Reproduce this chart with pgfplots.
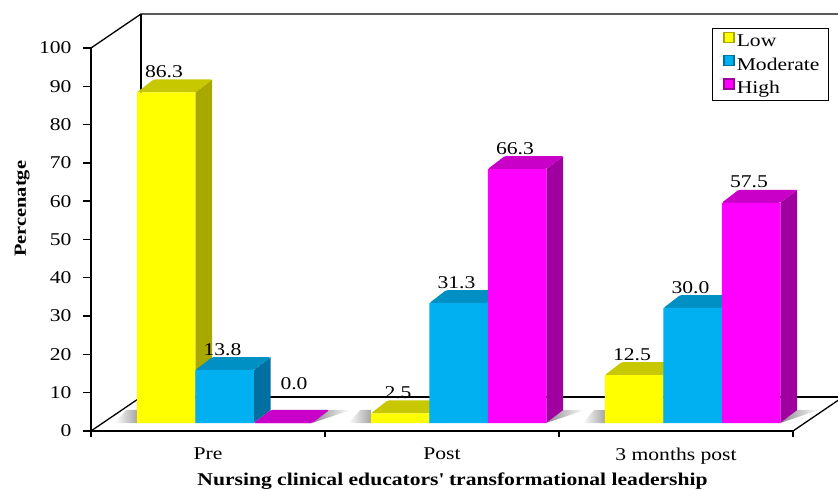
\documentclass[border=0pt]{standalone}
\usepackage{fontspec}
\setmainfont[FakeStretch=1.2]{Liberation Serif}
\usepackage{pgfplots}
\pgfplotsset{compat=1.18}

\definecolor{ylf}{HTML}{FFFF00}
\definecolor{yls}{HTML}{A8A800}
\definecolor{ylt}{HTML}{C8C800}
\definecolor{blf}{HTML}{00B0F0}
\definecolor{bls}{HTML}{0070A0}
\definecolor{blt}{HTML}{0090C4}
\definecolor{mgf}{HTML}{FF00FF}
\definecolor{mgs}{HTML}{A000A0}
\definecolor{mgt}{HTML}{C800C8}

\newcommand{\txt}{\fontsize{18}{21}\selectfont}

% side and top face of one bar: left x, value, side colour, top colour
\newcommand{\barfaces}[4]{%
  \pgfmathsetmacro\xa{#1+0.25}%
  \pgfmathsetmacro\xb{#1+0.3226}%
  \pgfmathsetmacro\xc{#1+0.0726}%
  \pgfmathsetmacro\yb{#2+3.4}%
  \addplot[forget plot,draw=none,fill=#3,xshift=16.5pt,yshift=8pt] coordinates {(\xa,0) (\xb,3.4) (\xb,\yb) (\xa,#2)} -- cycle;
  \addplot[forget plot,draw=none,fill=#4,rounded corners=1.5pt,xshift=16.5pt,yshift=8pt] coordinates {(#1,#2) (\xc,\yb) (\xb,\yb) (\xa,#2)} -- cycle;
}
% soft shadow on the floor round one group of bars
\newcommand{\floorshadow}[1]{%
  \pgfmathsetmacro\xa{#1-0.47}%
  \pgfmathsetmacro\xb{#1-0.375}%
  \pgfmathsetmacro\xf{#1-0.42}%
  \pgfmathsetmacro\xc{#1+0.375}%
  \pgfmathsetmacro\xe{#1+0.4476}%
  \pgfmathsetmacro\xd{#1+0.54}%
  \addplot[forget plot,draw=none,left color=white,right color=gray!70,xshift=16.5pt,yshift=8pt] coordinates {(\xa,0) (\xb,0) (\xb,3.4) (\xf,3.4)} -- cycle;
  \addplot[forget plot,draw=none,left color=gray!90,right color=white,xshift=16.5pt,yshift=8pt] coordinates {(\xc,0) (\xe,3.4) (\xd,3.4)} -- cycle;
}

\pgfplotsset{
  legswatch/.style={legend image code/.code={\path (-6pt,0pt) -- (9pt,0pt);\path[draw=#1,line width=1.4pt,##1] (-1pt,-9pt) rectangle (9pt,1pt);}},
  labelnum/.style={nodes near coords,point meta=y,
    nodes near coords style={font=\txt,xshift=#1,yshift=11pt,/pgf/number format/fixed,/pgf/number format/fixed zerofill,/pgf/number format/precision=1}},
}

\begin{document}
\begin{tikzpicture}[x=1pt,y=1pt]
\path[use as bounding box] (0,0) rectangle (838,490);
\begin{axis}[
    at={(91pt,59pt)}, anchor=south west,
    scale only axis, width=702pt, height=383pt,
    clip=false,
    xmin=0, xmax=3, ymin=0, ymax=100,
    axis x line*=bottom, axis y line*=left,
    axis line style={black,line width=1.8pt,-},
    tick style={black,line width=1.4pt},
    tick align=outside,
    ytick={0,10,...,100},
    xtick={0.5,1.5,2.5},
    xticklabels={Pre,Post,3 months post},
    minor xtick={0,1,2,3},
    major x tick style={draw=none},
    major tick length=8pt, minor tick length=6pt,
    tick label style={font=\txt},
    /pgf/number format/assume math mode=true,
    y tick label style={xshift=-8pt},
    x tick label style={yshift=-5pt},
    xlabel={\textbf{Nursing clinical educators\textquotesingle\ transformational leadership}},
    ylabel={\fontsize{17}{20}\selectfont\textbf{Percenatge}},
    xlabel style={font=\txt,anchor=center,at={(axis description cs:0.515,-0.131)}},
    ylabel style={anchor=center,at={(axis description cs:-0.098,0.58)}},
    legend style={at={(1.0513,1.052)},anchor=north east,draw=black,line width=1pt,
      font=\txt,row sep=4.5pt,inner xsep=7pt,inner ysep=3.5pt},
    legend cell align=left,
  ]
  % walls and floor
  \addplot[forget plot,black,line width=1.3pt] coordinates {(0,100) (0.2137,108.88) (3.2137,108.88)};
  \addplot[forget plot,black,line width=1.3pt] coordinates {(0.2137,108.88) (0.2137,8.88) (3.2137,8.88)};
  \addplot[forget plot,black,line width=1.3pt] coordinates {(0,0) (0.2137,8.88)};
  \addplot[forget plot,black,line width=1.3pt] coordinates {(3,0) (3.2137,8.88)};

  \floorshadow{0.5}
  \floorshadow{1.5}
  \floorshadow{2.5}

  % Low
  \barfaces{0.125}{86.3}{yls}{ylt}
  \barfaces{1.125}{2.5}{yls}{ylt}
  \barfaces{2.125}{12.5}{yls}{ylt}
  \addplot[ybar,bar width=58.5pt,bar shift=-58.5pt,draw=none,fill=ylf,
    xshift=16.5pt,yshift=8pt,legswatch=yls,labelnum=-60.5pt]
    coordinates {(0.5,86.3) (1.5,2.5) (2.5,12.5)};
  \addlegendentry{Low}

  % Moderate
  \barfaces{0.375}{13.8}{bls}{blt}
  \barfaces{1.375}{31.3}{bls}{blt}
  \barfaces{2.375}{30.0}{bls}{blt}
  \addplot[ybar,bar width=58.5pt,bar shift=0pt,draw=none,fill=blf,
    xshift=16.5pt,yshift=8pt,legswatch=bls,labelnum=-2pt]
    coordinates {(0.5,13.8) (1.5,31.3) (2.5,30.0)};
  \addlegendentry{Moderate}

  % High
  \barfaces{0.625}{0.0}{mgs}{mgt}
  \barfaces{1.625}{66.3}{mgs}{mgt}
  \barfaces{2.625}{57.5}{mgs}{mgt}
  \addplot[ybar,bar width=58.5pt,bar shift=58.5pt,draw=none,fill=mgf,
    xshift=16.5pt,yshift=8pt,legswatch=mgs,labelnum=56.5pt,
    coordinate style/.condition={y==0}{xshift=13pt,yshift=19pt}]
    coordinates {(0.5,0.0) (1.5,66.3) (2.5,57.5)};
  \addlegendentry{High}
\end{axis}
\end{tikzpicture}
\end{document}
